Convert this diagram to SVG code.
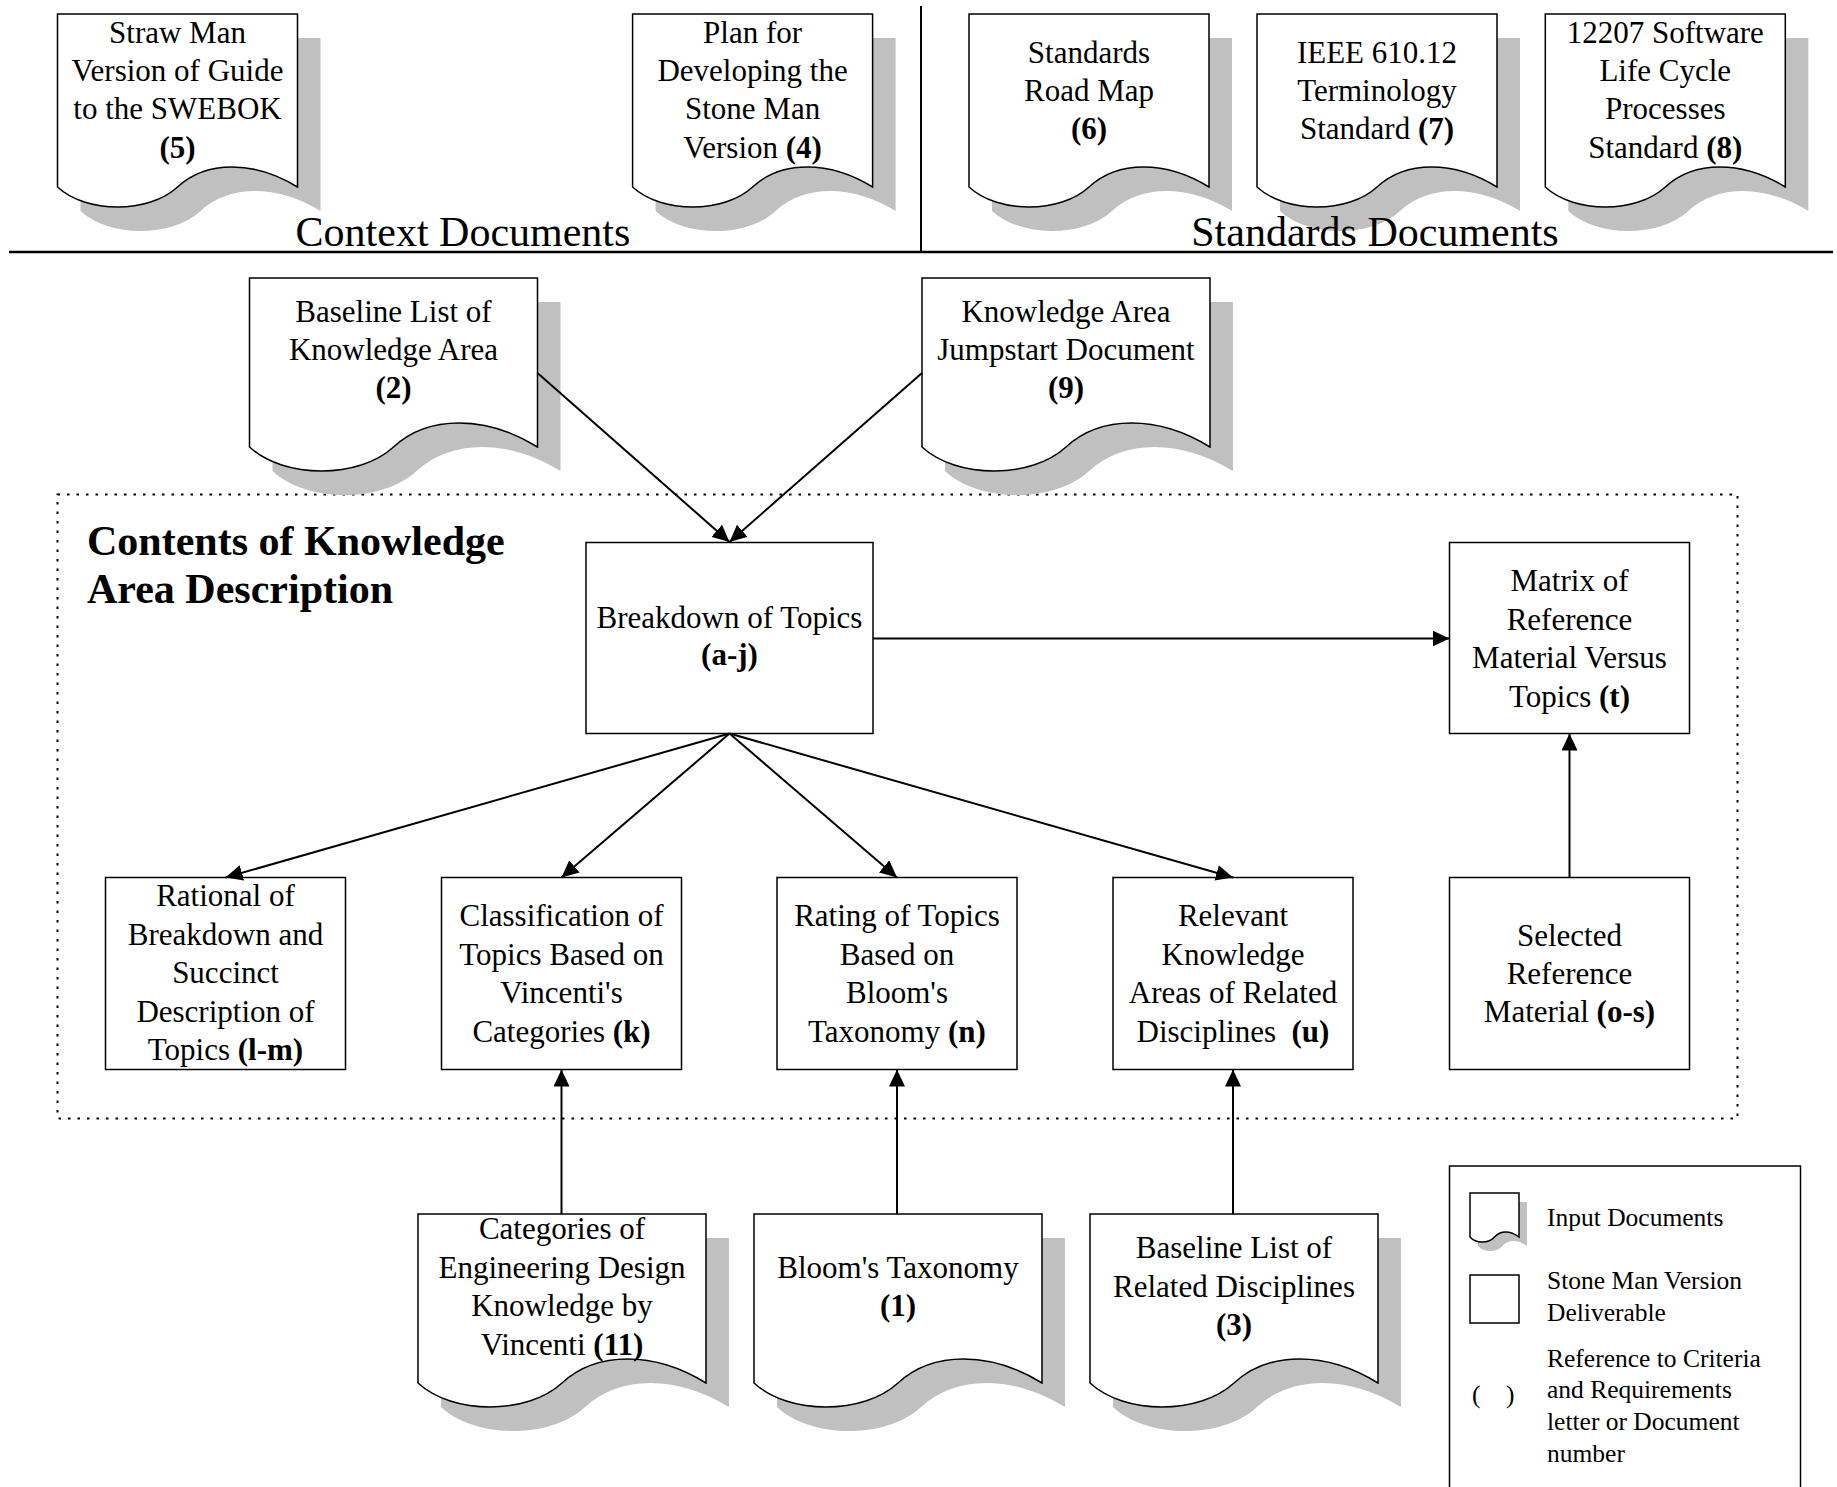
<svg xmlns="http://www.w3.org/2000/svg" xmlns:xlink="http://www.w3.org/1999/xlink" width="1837" height="1487" viewBox="0 0 1837 1487">
<style>
text{font-family:"Liberation Serif","Times New Roman",serif;fill:#000}
.t{font-size:31px;text-anchor:middle}
.b{font-weight:bold}
.h{font-size:42px;text-anchor:middle}
.ttl{font-size:42px;font-weight:bold}
.leg{font-size:25.5px}
.doc{fill:#fff;stroke:#000;stroke-width:1.5}
.sh{fill:#c0c0c0;stroke:none}
.box{fill:#fff;stroke:#000;stroke-width:1.5}
.con{stroke:#000;stroke-width:2;fill:none;marker-end:url(#ah)}
</style>
<defs>
<marker id="ah" markerUnits="userSpaceOnUse" markerWidth="18" markerHeight="16" refX="17" refY="8" orient="auto">
<path d="M0,0 L17,8 L0,16 Z" fill="#000"/>
</marker>
<path id="docT" d="M0,0 H240 V173 C196.8,146.3 148.8,146.3 120,173 C91.2,199.7 28.8,199.7 0,173 Z"/>
<path id="docM" d="M0,0 H288 V169 C236.2,137 178.6,137 144,169 C109.4,201 34.6,201 0,169 Z"/>
<path id="docL" d="M0,0 H49 V44 C40.2,37.3 30.4,37.3 24.5,44 C18.6,50.7 5.9,50.7 0,44 Z"/>
</defs>
<rect width="1837" height="1487" fill="#fff"/>

<g id="frame">
<line x1="921" y1="6" x2="921" y2="252" stroke="#000" stroke-width="2"/>
<line x1="9" y1="252" x2="1833" y2="252" stroke="#000" stroke-width="2.5"/>
<rect id="ka-area" x="57.5" y="494.5" width="1680" height="624" fill="none" stroke="#000" stroke-width="2" stroke-dasharray="2.5 7"/>
<text class="ttl" x="87" y="555">Contents of Knowledge</text>
<text class="ttl" x="87" y="603">Area Description</text>
</g>

<g id="doc5">
<use xlink:href="#docT" class="sh" transform="translate(80.5,38)"/>
<use xlink:href="#docT" class="doc" transform="translate(57.5,14)"/>
<text class="t" x="177.5" y="43">Straw Man</text>
<text class="t" x="177.5" y="81.2">Version of Guide</text>
<text class="t" x="177.5" y="119.4">to the SWEBOK</text>
<text class="t b" x="177.5" y="157.6">(5)</text>
</g>
<g id="doc4">
<use xlink:href="#docT" class="sh" transform="translate(655.6,38)"/>
<use xlink:href="#docT" class="doc" transform="translate(632.6,14)"/>
<text class="t" x="752.6" y="43">Plan for</text>
<text class="t" x="752.6" y="81.2">Developing the</text>
<text class="t" x="752.6" y="119.4">Stone Man</text>
<text class="t" x="752.6" y="157.6">Version <tspan class="b">(4)</tspan></text>
</g>
<g id="doc6">
<use xlink:href="#docT" class="sh" transform="translate(992,38)"/>
<use xlink:href="#docT" class="doc" transform="translate(969,14)"/>
<text class="t" x="1089" y="63">Standards</text>
<text class="t" x="1089" y="101">Road Map</text>
<text class="t b" x="1089" y="139">(6)</text>
</g>
<g id="doc7">
<use xlink:href="#docT" class="sh" transform="translate(1280,38)"/>
<use xlink:href="#docT" class="doc" transform="translate(1257,14)"/>
<text class="t" x="1377" y="63">IEEE 610.12</text>
<text class="t" x="1377" y="101">Terminology</text>
<text class="t" x="1377" y="139">Standard <tspan class="b">(7)</tspan></text>
</g>
<g id="doc8">
<use xlink:href="#docT" class="sh" transform="translate(1568.3,38)"/>
<use xlink:href="#docT" class="doc" transform="translate(1545.3,14)"/>
<text class="t" x="1665.3" y="43">12207 Software</text>
<text class="t" x="1665.3" y="81.2">Life Cycle</text>
<text class="t" x="1665.3" y="119.4">Processes</text>
<text class="t" x="1665.3" y="157.6">Standard <tspan class="b">(8)</tspan></text>
</g>

<g id="section-labels">
<text class="h" x="463" y="246">Context Documents</text>
<text class="h" x="1375" y="246">Standards Documents</text>
</g>

<g id="doc2">
<use xlink:href="#docM" class="sh" transform="translate(272.5,302)"/>
<use xlink:href="#docM" class="doc" transform="translate(249.5,278)"/>
<text class="t" x="393.5" y="322">Baseline List of</text>
<text class="t" x="393.5" y="360">Knowledge Area</text>
<text class="t b" x="393.5" y="398">(2)</text>
</g>
<g id="doc9">
<use xlink:href="#docM" class="sh" transform="translate(945,302)"/>
<use xlink:href="#docM" class="doc" transform="translate(922,278)"/>
<text class="t" x="1066" y="322">Knowledge Area</text>
<text class="t" x="1066" y="360">Jumpstart Document</text>
<text class="t b" x="1066" y="398">(9)</text>
</g>

<g id="breakdown">
<rect class="box" x="586" y="542.5" width="287" height="191"/>
<text class="t" x="729.5" y="628">Breakdown of Topics</text>
<text class="t b" x="729.5" y="665">(a-j)</text>
</g>
<g id="matrix">
<rect class="box" x="1449.5" y="542.5" width="240" height="191"/>
<text class="t" x="1569.5" y="591">Matrix of</text>
<text class="t" x="1569.5" y="629.5">Reference</text>
<text class="t" x="1569.5" y="668">Material Versus</text>
<text class="t" x="1569.5" y="706.5">Topics <tspan class="b">(t)</tspan></text>
</g>
<g id="rational">
<rect class="box" x="105.5" y="877.5" width="240" height="192"/>
<text class="t" x="225.5" y="906">Rational of</text>
<text class="t" x="225.5" y="944.6">Breakdown and</text>
<text class="t" x="225.5" y="983.2">Succinct</text>
<text class="t" x="225.5" y="1021.8">Description of</text>
<text class="t" x="225.5" y="1060.4">Topics <tspan class="b">(l-m)</tspan></text>
</g>
<g id="classification">
<rect class="box" x="441.5" y="877.5" width="240" height="192"/>
<text class="t" x="561.5" y="926">Classification of</text>
<text class="t" x="561.5" y="964.5">Topics Based on</text>
<text class="t" x="561.5" y="1003">Vincenti's</text>
<text class="t" x="561.5" y="1041.5">Categories <tspan class="b">(k)</tspan></text>
</g>
<g id="rating">
<rect class="box" x="777" y="877.5" width="240" height="192"/>
<text class="t" x="897" y="926">Rating of Topics</text>
<text class="t" x="897" y="964.5">Based on</text>
<text class="t" x="897" y="1003">Bloom's</text>
<text class="t" x="897" y="1041.5">Taxonomy <tspan class="b">(n)</tspan></text>
</g>
<g id="relevant">
<rect class="box" x="1113" y="877.5" width="240" height="192"/>
<text class="t" x="1233" y="926">Relevant</text>
<text class="t" x="1233" y="964.5">Knowledge</text>
<text class="t" x="1233" y="1003">Areas of Related</text>
<text class="t" x="1233" y="1041.5" xml:space="preserve">Disciplines  <tspan class="b">(u)</tspan></text>
</g>
<g id="selected">
<rect class="box" x="1449.5" y="877.5" width="240" height="192"/>
<text class="t" x="1569.5" y="946">Selected</text>
<text class="t" x="1569.5" y="984">Reference</text>
<text class="t" x="1569.5" y="1022">Material <tspan class="b">(o-s)</tspan></text>
</g>

<g id="doc11">
<use xlink:href="#docM" class="sh" transform="translate(441,1238)"/>
<use xlink:href="#docM" class="doc" transform="translate(418,1214)"/>
<text class="t" x="562" y="1239">Categories of</text>
<text class="t" x="562" y="1277.5">Engineering Design</text>
<text class="t" x="562" y="1316">Knowledge by</text>
<text class="t" x="562" y="1354.5">Vincenti <tspan class="b">(11)</tspan></text>
</g>
<g id="doc1">
<use xlink:href="#docM" class="sh" transform="translate(777,1238)"/>
<use xlink:href="#docM" class="doc" transform="translate(754,1214)"/>
<text class="t" x="898" y="1278">Bloom's Taxonomy</text>
<text class="t b" x="898" y="1316">(1)</text>
</g>
<g id="doc3">
<use xlink:href="#docM" class="sh" transform="translate(1113,1238)"/>
<use xlink:href="#docM" class="doc" transform="translate(1090,1214)"/>
<text class="t" x="1234" y="1258">Baseline List of</text>
<text class="t" x="1234" y="1296.5">Related Disciplines</text>
<text class="t b" x="1234" y="1335">(3)</text>
</g>

<g id="connectors">
<line class="con" x1="537.5" y1="373" x2="729.5" y2="542"/>
<line class="con" x1="922" y1="373" x2="729.5" y2="542"/>
<line class="con" x1="873" y1="638.5" x2="1449.5" y2="638.5"/>
<line class="con" x1="729.5" y1="733.5" x2="225.5" y2="877.5"/>
<line class="con" x1="729.5" y1="733.5" x2="561.5" y2="877.5"/>
<line class="con" x1="729.5" y1="733.5" x2="897" y2="877.5"/>
<line class="con" x1="729.5" y1="733.5" x2="1233" y2="877.5"/>
<line class="con" x1="1569.5" y1="877.5" x2="1569.5" y2="733.5"/>
<line class="con" x1="561.5" y1="1214" x2="561.5" y2="1069.5"/>
<line class="con" x1="897" y1="1214" x2="897" y2="1069.5"/>
<line class="con" x1="1233" y1="1214" x2="1233" y2="1069.5"/>
</g>

<g id="legend">
<rect x="1449.5" y="1166" width="351" height="340" fill="#fff" stroke="#000" stroke-width="1.5"/>
<use xlink:href="#docL" class="sh" transform="translate(1478,1202)"/>
<use xlink:href="#docL" class="doc" transform="translate(1470,1193)"/>
<text class="leg" x="1547" y="1226">Input Documents</text>
<rect x="1470" y="1275" width="49" height="48" fill="#fff" stroke="#000" stroke-width="1.5"/>
<text class="leg" x="1547" y="1289">Stone Man Version</text>
<text class="leg" x="1547" y="1320.5">Deliverable</text>
<text class="leg" y="1403"><tspan x="1472">(</tspan><tspan x="1506">)</tspan></text>
<text class="leg" x="1547" y="1366.5">Reference to Criteria</text>
<text class="leg" x="1547" y="1398">and Requirements</text>
<text class="leg" x="1547" y="1429.5">letter or Document</text>
<text class="leg" x="1547" y="1461.5">number</text>
</g>
</svg>
